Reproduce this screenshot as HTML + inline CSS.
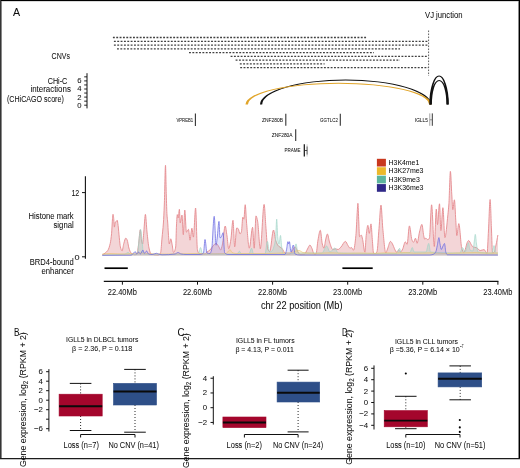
<!DOCTYPE html>
<html><head><meta charset="utf-8"><style>
html,body{margin:0;padding:0;background:#fff;}
svg{will-change:transform;display:block;font-family:"Liberation Sans",sans-serif;}
text{fill:#0d0d0d;stroke:#0d0d0d;stroke-width:0.04px;}
</style></head><body>
<svg width="520" height="468" viewBox="0 0 520 468">
<rect x="0" y="0" width="520" height="468" fill="#fff"/>
<!-- border -->
<g shape-rendering="crispEdges">
<rect x="0" y="1" width="520" height="1" fill="#dadada"/>
<rect x="0" y="459" width="520" height="1" fill="#c4c4c4"/>
<rect x="1" y="0" width="1" height="459" fill="#888"/>
<rect x="518" y="0" width="1" height="459" fill="#8c8c8c"/>
<rect x="0" y="0" width="520" height="1" fill="#000"/>
<rect x="0" y="0" width="1" height="459" fill="#353535"/>
<rect x="519" y="0" width="1" height="459" fill="#000"/>
<rect x="0" y="458" width="520" height="1" fill="#1c1c1c"/>
</g>
<line x1="112.9" y1="37.5" x2="367.5" y2="37.5" stroke="#404040" stroke-width="1.3" stroke-dasharray="1.9 1.45"/>
<line x1="113.9" y1="41.4" x2="428.3" y2="41.4" stroke="#404040" stroke-width="1.3" stroke-dasharray="1.9 1.45"/>
<line x1="113.9" y1="45.2" x2="428.3" y2="45.2" stroke="#404040" stroke-width="1.3" stroke-dasharray="1.9 1.45"/>
<line x1="117.0" y1="48.9" x2="400.0" y2="48.9" stroke="#404040" stroke-width="1.3" stroke-dasharray="1.9 1.45"/>
<line x1="189.0" y1="52.7" x2="374.0" y2="52.7" stroke="#404040" stroke-width="1.3" stroke-dasharray="1.9 1.45"/>
<line x1="230.6" y1="56.4" x2="428.3" y2="56.4" stroke="#404040" stroke-width="1.3" stroke-dasharray="1.9 1.45"/>
<line x1="235.6" y1="60.1" x2="400.0" y2="60.1" stroke="#404040" stroke-width="1.3" stroke-dasharray="1.9 1.45"/>
<line x1="239.8" y1="63.8" x2="324.6" y2="63.8" stroke="#404040" stroke-width="1.3" stroke-dasharray="1.9 1.45"/>
<line x1="240.2" y1="67.7" x2="428.3" y2="67.7" stroke="#404040" stroke-width="1.3" stroke-dasharray="1.9 1.45"/>

<line x1="428.6" y1="30.5" x2="428.6" y2="76" stroke="#333" stroke-width="0.8" stroke-dasharray="1.6 1.4"/>
<path d="M260.00,104.60 A85.70,25.05 0 0 1 431.40,104.60 L429.20,104.60 A83.50,24.15 0 0 0 262.20,104.60 Z" fill="#111"/>
<path d="M245.45,104.60 A93.05,21.85 0 0 1 431.55,104.60 L429.05,104.60 A90.55,20.95 0 0 0 247.95,104.60 Z" fill="#e1a52a"/>
<path d="M429.30,104.40 A9.75,29.00 0 0 1 448.80,104.40 L446.70,104.40 A7.65,28.00 0 0 0 431.40,104.40 Z" fill="#111"/>
<path d="M429.80,104.40 A9.35,24.30 0 0 1 448.50,104.40 L446.40,104.40 A7.25,23.30 0 0 0 431.90,104.40 Z" fill="#111"/>
<line x1="87" y1="73.2" x2="87" y2="108.4" stroke="#111" stroke-width="1"/>
<line x1="84.2" y1="105.20" x2="87" y2="105.20" stroke="#111" stroke-width="0.9"/>
<line x1="84.2" y1="101.15" x2="87" y2="101.15" stroke="#111" stroke-width="0.9"/>
<line x1="84.2" y1="97.10" x2="87" y2="97.10" stroke="#111" stroke-width="0.9"/>
<line x1="84.2" y1="93.05" x2="87" y2="93.05" stroke="#111" stroke-width="0.9"/>
<line x1="84.2" y1="89.00" x2="87" y2="89.00" stroke="#111" stroke-width="0.9"/>
<line x1="84.2" y1="84.95" x2="87" y2="84.95" stroke="#111" stroke-width="0.9"/>
<line x1="84.2" y1="80.90" x2="87" y2="80.90" stroke="#111" stroke-width="0.9"/>
<line x1="84.2" y1="76.85" x2="87" y2="76.85" stroke="#111" stroke-width="0.9"/>
<path d="M102.30,254.80 C103.23,254.23 104.17,253.81 105.10,253.10 C106.03,252.39 106.97,251.72 107.90,250.30 C108.67,249.14 109.43,246.84 110.20,243.50 C110.67,241.47 111.13,238.14 111.60,233.30 C111.90,230.19 112.20,221.88 112.50,218.60 C112.67,216.78 112.83,214.30 113.00,214.30 C113.20,214.30 113.40,216.05 113.60,217.50 C113.87,219.43 114.13,227.10 114.40,227.10 C114.70,227.10 115.00,222.31 115.30,222.00 C115.67,221.62 116.03,221.69 116.40,221.40 C116.67,221.19 116.93,220.30 117.20,220.30 C117.50,220.30 117.80,223.23 118.10,225.40 C118.50,228.29 118.90,234.13 119.30,237.80 C119.67,241.16 120.03,245.50 120.40,246.90 C120.97,249.06 121.53,250.90 122.10,250.90 C122.67,250.90 123.23,245.40 123.80,243.50 C124.47,241.26 125.13,238.10 125.80,238.10 C126.27,238.10 126.73,239.10 127.20,240.10 C127.77,241.32 128.33,246.22 128.90,248.00 C129.63,250.30 130.37,252.47 131.10,253.10 C131.87,253.76 132.63,254.00 133.40,254.30 C133.93,254.51 134.47,254.80 135.00,254.80 C135.67,254.80 136.33,254.31 137.00,253.50 C137.50,252.89 138.00,248.37 138.50,245.00 C139.10,240.95 139.70,229.80 140.30,229.80 C140.73,229.80 141.17,239.11 141.60,241.00 C141.93,242.45 142.27,244.00 142.60,244.00 C143.00,244.00 143.40,236.18 143.80,232.00 C144.33,226.43 144.87,214.40 145.40,214.40 C145.93,214.40 146.47,227.03 147.00,232.00 C147.67,238.21 148.33,245.09 149.00,248.00 C149.67,250.91 150.33,253.78 151.00,254.00 C153.33,254.77 155.67,255.00 158.00,255.00 C158.67,255.00 159.33,254.61 160.00,254.00 C160.23,253.79 160.47,253.23 160.70,252.40 C161.13,250.86 161.57,242.72 162.00,238.00 C162.47,232.92 162.93,229.66 163.40,223.00 C163.70,218.72 164.00,212.39 164.30,205.00 C164.70,195.14 165.10,165.30 165.50,165.30 C165.77,165.30 166.03,186.41 166.30,195.00 C166.53,202.51 166.77,211.59 167.00,215.00 C167.20,217.93 167.40,218.55 167.60,221.00 C167.87,224.26 168.13,230.47 168.40,234.00 C168.70,237.97 169.00,244.00 169.30,244.00 C169.80,244.00 170.30,238.80 170.80,238.80 C171.27,238.80 171.73,242.67 172.20,245.00 C172.63,247.16 173.07,252.40 173.50,252.40 C174.23,252.40 174.97,250.80 175.70,247.00 C175.97,245.62 176.23,229.71 176.50,225.00 C176.77,220.29 177.03,214.60 177.30,214.60 C177.60,214.60 177.90,218.00 178.20,218.00 C178.60,218.00 179.00,209.30 179.40,209.30 C179.67,209.30 179.93,222.90 180.20,222.90 C180.80,222.90 181.40,215.10 182.00,215.10 C182.43,215.10 182.87,234.70 183.30,234.70 C183.80,234.70 184.30,210.10 184.80,210.10 C185.33,210.10 185.87,232.20 186.40,232.20 C187.10,232.20 187.80,229.30 188.50,229.30 C189.00,229.30 189.50,240.20 190.00,240.20 C190.63,240.20 191.27,228.20 191.90,228.20 C192.40,228.20 192.90,237.10 193.40,237.10 C194.13,237.10 194.87,208.00 195.60,208.00 C196.20,208.00 196.80,246.84 197.40,249.50 C197.93,251.87 198.47,253.40 199.00,253.50 C201.00,253.89 203.00,254.00 205.00,254.00 C205.67,254.00 206.33,252.54 207.00,252.00 C208.00,251.19 209.00,250.89 210.00,250.00 C211.00,249.11 212.00,247.05 213.00,246.00 C214.03,244.91 215.07,243.30 216.10,243.30 C217.07,243.30 218.03,245.50 219.00,247.00 C219.53,247.82 220.07,250.00 220.60,250.00 C221.17,250.00 221.73,247.23 222.30,245.00 C223.27,241.20 224.23,226.00 225.20,226.00 C225.80,226.00 226.40,232.16 227.00,236.00 C227.57,239.63 228.13,248.80 228.70,248.80 C229.40,248.80 230.10,243.99 230.80,240.00 C231.53,235.82 232.27,220.30 233.00,220.30 C233.57,220.30 234.13,246.80 234.70,246.80 C235.37,246.80 236.03,228.00 236.70,228.00 C237.17,228.00 237.63,228.27 238.10,228.60 C238.77,229.07 239.43,234.00 240.10,234.00 C240.57,234.00 241.03,232.84 241.50,231.30 C241.93,229.87 242.37,217.20 242.80,217.20 C243.17,217.20 243.53,219.20 243.90,219.20 C244.33,219.20 244.77,204.70 245.20,204.70 C245.67,204.70 246.13,218.12 246.60,223.30 C247.50,233.29 248.40,248.20 249.30,248.20 C250.40,248.20 251.50,227.30 252.60,227.30 C253.13,227.30 253.67,248.20 254.20,248.20 C254.80,248.20 255.40,215.90 256.00,215.90 C256.53,215.90 257.07,218.64 257.60,221.20 C258.50,225.52 259.40,248.80 260.30,248.80 C261.57,248.80 262.83,204.40 264.10,204.40 C264.73,204.40 265.37,220.82 266.00,228.60 C266.57,235.56 267.13,247.40 267.70,248.80 C268.37,250.45 269.03,251.50 269.70,251.50 C270.97,251.50 272.23,230.00 273.50,230.00 C274.27,230.00 275.03,238.65 275.80,240.80 C276.70,243.32 277.60,245.22 278.50,246.10 C279.60,247.18 280.70,247.24 281.80,248.20 C283.17,249.40 284.53,254.20 285.90,254.20 C287.27,254.20 288.63,254.14 290.00,254.00 C290.83,253.92 291.67,251.68 292.50,250.50 C293.37,249.28 294.23,246.80 295.10,246.80 C295.90,246.80 296.70,249.79 297.50,251.00 C298.33,252.26 299.17,254.30 300.00,254.30 C301.50,254.30 303.00,254.20 304.50,254.00 C305.50,253.86 306.50,250.64 307.50,249.00 C308.30,247.68 309.10,245.10 309.90,245.10 C310.60,245.10 311.30,247.07 312.00,248.50 C312.67,249.86 313.33,254.00 314.00,254.00 C314.67,254.00 315.33,254.00 316.00,254.00 C316.67,254.00 317.33,243.53 318.00,240.00 C318.77,235.94 319.53,230.30 320.30,230.30 C320.97,230.30 321.63,241.61 322.30,244.00 C322.87,246.03 323.43,248.20 324.00,248.20 C324.53,248.20 325.07,242.16 325.60,240.00 C326.20,237.57 326.80,234.00 327.40,234.00 C328.10,234.00 328.80,239.97 329.50,242.00 C330.60,245.19 331.70,249.50 332.80,249.50 C333.70,249.50 334.60,248.80 335.50,248.80 C336.33,248.80 337.17,249.50 338.00,249.50 C339.00,249.50 340.00,247.99 341.00,247.00 C342.47,245.54 343.93,241.40 345.40,241.40 C346.27,241.40 347.13,244.28 348.00,245.50 C348.70,246.49 349.40,248.20 350.10,248.20 C350.53,248.20 350.97,247.50 351.40,247.50 C352.10,247.50 352.80,250.20 353.50,250.20 C354.30,250.20 355.10,243.07 355.90,235.40 C356.33,231.24 356.77,218.93 357.20,212.50 C357.43,209.04 357.67,203.30 357.90,203.30 C358.20,203.30 358.50,215.63 358.80,221.90 C359.03,226.78 359.27,236.70 359.50,236.70 C360.10,236.70 360.70,235.10 361.30,235.10 C361.73,235.10 362.17,237.64 362.60,239.40 C363.37,242.51 364.13,252.20 364.90,252.20 C365.33,252.20 365.77,238.99 366.20,235.40 C366.77,230.71 367.33,225.30 367.90,225.30 C368.37,225.30 368.83,233.40 369.30,233.40 C369.87,233.40 370.43,223.90 371.00,223.90 C371.43,223.90 371.87,234.48 372.30,239.40 C372.73,244.32 373.17,253.50 373.60,253.50 C374.23,253.50 374.87,253.50 375.50,253.50 C376.00,253.50 376.50,252.65 377.00,251.50 C377.67,249.97 378.33,236.33 379.00,228.60 C379.67,220.87 380.33,205.10 381.00,205.10 C381.60,205.10 382.20,222.48 382.80,228.60 C383.80,238.80 384.80,252.90 385.80,252.90 C386.37,252.90 386.93,250.36 387.50,249.00 C388.50,246.60 389.50,241.40 390.50,241.40 C391.17,241.40 391.83,242.88 392.50,244.00 C393.17,245.12 393.83,247.47 394.50,248.80 C395.17,250.13 395.83,252.20 396.50,252.20 C397.20,252.20 397.90,250.00 398.60,250.00 C399.27,250.00 399.93,252.00 400.60,252.00 C401.30,252.00 402.00,250.30 402.70,249.00 C403.57,247.38 404.43,241.80 405.30,241.80 C405.90,241.80 406.50,244.40 407.10,244.40 C407.87,244.40 408.63,225.90 409.40,225.90 C410.23,225.90 411.07,237.69 411.90,239.70 C412.43,240.99 412.97,242.30 413.50,242.30 C414.17,242.30 414.83,238.20 415.50,238.20 C416.03,238.20 416.57,243.30 417.10,243.30 C417.90,243.30 418.70,235.03 419.50,232.00 C420.30,228.97 421.10,224.40 421.90,224.40 C422.50,224.40 423.10,232.93 423.70,235.60 C424.03,237.08 424.37,239.20 424.70,239.20 C425.07,239.20 425.43,238.20 425.80,238.20 C426.47,238.20 427.13,239.70 427.80,239.70 C428.33,239.70 428.87,239.10 429.40,238.20 C430.13,236.96 430.87,204.80 431.60,204.80 C432.50,204.80 433.40,246.50 434.30,246.50 C434.97,246.50 435.63,209.10 436.30,209.10 C436.70,209.10 437.10,224.60 437.50,224.60 C438.17,224.60 438.83,203.80 439.50,203.80 C439.97,203.80 440.43,230.60 440.90,230.60 C441.57,230.60 442.23,207.70 442.90,207.70 C443.57,207.70 444.23,237.60 444.90,237.60 C445.90,237.60 446.90,223.95 447.90,214.70 C448.23,211.62 448.57,208.53 448.90,203.80 C449.40,196.71 449.90,171.40 450.40,171.40 C450.87,171.40 451.33,187.47 451.80,194.80 C452.13,200.04 452.47,209.70 452.80,209.70 C453.33,209.70 453.87,199.80 454.40,199.80 C454.87,199.80 455.33,213.74 455.80,220.70 C456.13,225.67 456.47,235.60 456.80,235.60 C457.47,235.60 458.13,223.60 458.80,223.60 C459.80,223.60 460.80,245.40 461.80,248.50 C462.47,250.56 463.13,252.50 463.80,252.50 C465.10,252.50 466.40,243.40 467.70,241.50 C468.00,241.06 468.30,240.50 468.60,240.50 C469.50,240.50 470.40,243.40 471.30,244.70 C471.87,245.52 472.43,246.80 473.00,247.00 C474.10,247.38 475.20,247.28 476.30,247.60 C477.60,247.97 478.90,250.50 480.20,250.50 C481.50,250.50 482.80,249.60 484.10,249.60 C485.07,249.60 486.03,253.50 487.00,253.50 C487.50,253.50 488.00,238.59 488.50,230.00 C489.03,220.84 489.57,199.50 490.10,199.50 C490.57,199.50 491.03,219.54 491.50,230.00 C491.83,237.47 492.17,253.00 492.50,253.00 C493.00,253.00 493.50,252.79 494.00,252.50 C494.67,252.11 495.33,247.92 496.00,245.00 C496.63,242.22 497.27,238.33 497.90,235.00 L497.90,255.40 L102.30,255.40 Z" fill="#f3d5d7" fill-opacity="1.0" stroke="none"/>
<path d="M102.30,254.80 C103.23,254.23 104.17,253.81 105.10,253.10 C106.03,252.39 106.97,251.72 107.90,250.30 C108.67,249.14 109.43,246.84 110.20,243.50 C110.67,241.47 111.13,238.14 111.60,233.30 C111.90,230.19 112.20,221.88 112.50,218.60 C112.67,216.78 112.83,214.30 113.00,214.30 C113.20,214.30 113.40,216.05 113.60,217.50 C113.87,219.43 114.13,227.10 114.40,227.10 C114.70,227.10 115.00,222.31 115.30,222.00 C115.67,221.62 116.03,221.69 116.40,221.40 C116.67,221.19 116.93,220.30 117.20,220.30 C117.50,220.30 117.80,223.23 118.10,225.40 C118.50,228.29 118.90,234.13 119.30,237.80 C119.67,241.16 120.03,245.50 120.40,246.90 C120.97,249.06 121.53,250.90 122.10,250.90 C122.67,250.90 123.23,245.40 123.80,243.50 C124.47,241.26 125.13,238.10 125.80,238.10 C126.27,238.10 126.73,239.10 127.20,240.10 C127.77,241.32 128.33,246.22 128.90,248.00 C129.63,250.30 130.37,252.47 131.10,253.10 C131.87,253.76 132.63,254.00 133.40,254.30 C133.93,254.51 134.47,254.80 135.00,254.80 C135.67,254.80 136.33,254.31 137.00,253.50 C137.50,252.89 138.00,248.37 138.50,245.00 C139.10,240.95 139.70,229.80 140.30,229.80 C140.73,229.80 141.17,239.11 141.60,241.00 C141.93,242.45 142.27,244.00 142.60,244.00 C143.00,244.00 143.40,236.18 143.80,232.00 C144.33,226.43 144.87,214.40 145.40,214.40 C145.93,214.40 146.47,227.03 147.00,232.00 C147.67,238.21 148.33,245.09 149.00,248.00 C149.67,250.91 150.33,253.78 151.00,254.00 C153.33,254.77 155.67,255.00 158.00,255.00 C158.67,255.00 159.33,254.61 160.00,254.00 C160.23,253.79 160.47,253.23 160.70,252.40 C161.13,250.86 161.57,242.72 162.00,238.00 C162.47,232.92 162.93,229.66 163.40,223.00 C163.70,218.72 164.00,212.39 164.30,205.00 C164.70,195.14 165.10,165.30 165.50,165.30 C165.77,165.30 166.03,186.41 166.30,195.00 C166.53,202.51 166.77,211.59 167.00,215.00 C167.20,217.93 167.40,218.55 167.60,221.00 C167.87,224.26 168.13,230.47 168.40,234.00 C168.70,237.97 169.00,244.00 169.30,244.00 C169.80,244.00 170.30,238.80 170.80,238.80 C171.27,238.80 171.73,242.67 172.20,245.00 C172.63,247.16 173.07,252.40 173.50,252.40 C174.23,252.40 174.97,250.80 175.70,247.00 C175.97,245.62 176.23,229.71 176.50,225.00 C176.77,220.29 177.03,214.60 177.30,214.60 C177.60,214.60 177.90,218.00 178.20,218.00 C178.60,218.00 179.00,209.30 179.40,209.30 C179.67,209.30 179.93,222.90 180.20,222.90 C180.80,222.90 181.40,215.10 182.00,215.10 C182.43,215.10 182.87,234.70 183.30,234.70 C183.80,234.70 184.30,210.10 184.80,210.10 C185.33,210.10 185.87,232.20 186.40,232.20 C187.10,232.20 187.80,229.30 188.50,229.30 C189.00,229.30 189.50,240.20 190.00,240.20 C190.63,240.20 191.27,228.20 191.90,228.20 C192.40,228.20 192.90,237.10 193.40,237.10 C194.13,237.10 194.87,208.00 195.60,208.00 C196.20,208.00 196.80,246.84 197.40,249.50 C197.93,251.87 198.47,253.40 199.00,253.50 C201.00,253.89 203.00,254.00 205.00,254.00 C205.67,254.00 206.33,252.54 207.00,252.00 C208.00,251.19 209.00,250.89 210.00,250.00 C211.00,249.11 212.00,247.05 213.00,246.00 C214.03,244.91 215.07,243.30 216.10,243.30 C217.07,243.30 218.03,245.50 219.00,247.00 C219.53,247.82 220.07,250.00 220.60,250.00 C221.17,250.00 221.73,247.23 222.30,245.00 C223.27,241.20 224.23,226.00 225.20,226.00 C225.80,226.00 226.40,232.16 227.00,236.00 C227.57,239.63 228.13,248.80 228.70,248.80 C229.40,248.80 230.10,243.99 230.80,240.00 C231.53,235.82 232.27,220.30 233.00,220.30 C233.57,220.30 234.13,246.80 234.70,246.80 C235.37,246.80 236.03,228.00 236.70,228.00 C237.17,228.00 237.63,228.27 238.10,228.60 C238.77,229.07 239.43,234.00 240.10,234.00 C240.57,234.00 241.03,232.84 241.50,231.30 C241.93,229.87 242.37,217.20 242.80,217.20 C243.17,217.20 243.53,219.20 243.90,219.20 C244.33,219.20 244.77,204.70 245.20,204.70 C245.67,204.70 246.13,218.12 246.60,223.30 C247.50,233.29 248.40,248.20 249.30,248.20 C250.40,248.20 251.50,227.30 252.60,227.30 C253.13,227.30 253.67,248.20 254.20,248.20 C254.80,248.20 255.40,215.90 256.00,215.90 C256.53,215.90 257.07,218.64 257.60,221.20 C258.50,225.52 259.40,248.80 260.30,248.80 C261.57,248.80 262.83,204.40 264.10,204.40 C264.73,204.40 265.37,220.82 266.00,228.60 C266.57,235.56 267.13,247.40 267.70,248.80 C268.37,250.45 269.03,251.50 269.70,251.50 C270.97,251.50 272.23,230.00 273.50,230.00 C274.27,230.00 275.03,238.65 275.80,240.80 C276.70,243.32 277.60,245.22 278.50,246.10 C279.60,247.18 280.70,247.24 281.80,248.20 C283.17,249.40 284.53,254.20 285.90,254.20 C287.27,254.20 288.63,254.14 290.00,254.00 C290.83,253.92 291.67,251.68 292.50,250.50 C293.37,249.28 294.23,246.80 295.10,246.80 C295.90,246.80 296.70,249.79 297.50,251.00 C298.33,252.26 299.17,254.30 300.00,254.30 C301.50,254.30 303.00,254.20 304.50,254.00 C305.50,253.86 306.50,250.64 307.50,249.00 C308.30,247.68 309.10,245.10 309.90,245.10 C310.60,245.10 311.30,247.07 312.00,248.50 C312.67,249.86 313.33,254.00 314.00,254.00 C314.67,254.00 315.33,254.00 316.00,254.00 C316.67,254.00 317.33,243.53 318.00,240.00 C318.77,235.94 319.53,230.30 320.30,230.30 C320.97,230.30 321.63,241.61 322.30,244.00 C322.87,246.03 323.43,248.20 324.00,248.20 C324.53,248.20 325.07,242.16 325.60,240.00 C326.20,237.57 326.80,234.00 327.40,234.00 C328.10,234.00 328.80,239.97 329.50,242.00 C330.60,245.19 331.70,249.50 332.80,249.50 C333.70,249.50 334.60,248.80 335.50,248.80 C336.33,248.80 337.17,249.50 338.00,249.50 C339.00,249.50 340.00,247.99 341.00,247.00 C342.47,245.54 343.93,241.40 345.40,241.40 C346.27,241.40 347.13,244.28 348.00,245.50 C348.70,246.49 349.40,248.20 350.10,248.20 C350.53,248.20 350.97,247.50 351.40,247.50 C352.10,247.50 352.80,250.20 353.50,250.20 C354.30,250.20 355.10,243.07 355.90,235.40 C356.33,231.24 356.77,218.93 357.20,212.50 C357.43,209.04 357.67,203.30 357.90,203.30 C358.20,203.30 358.50,215.63 358.80,221.90 C359.03,226.78 359.27,236.70 359.50,236.70 C360.10,236.70 360.70,235.10 361.30,235.10 C361.73,235.10 362.17,237.64 362.60,239.40 C363.37,242.51 364.13,252.20 364.90,252.20 C365.33,252.20 365.77,238.99 366.20,235.40 C366.77,230.71 367.33,225.30 367.90,225.30 C368.37,225.30 368.83,233.40 369.30,233.40 C369.87,233.40 370.43,223.90 371.00,223.90 C371.43,223.90 371.87,234.48 372.30,239.40 C372.73,244.32 373.17,253.50 373.60,253.50 C374.23,253.50 374.87,253.50 375.50,253.50 C376.00,253.50 376.50,252.65 377.00,251.50 C377.67,249.97 378.33,236.33 379.00,228.60 C379.67,220.87 380.33,205.10 381.00,205.10 C381.60,205.10 382.20,222.48 382.80,228.60 C383.80,238.80 384.80,252.90 385.80,252.90 C386.37,252.90 386.93,250.36 387.50,249.00 C388.50,246.60 389.50,241.40 390.50,241.40 C391.17,241.40 391.83,242.88 392.50,244.00 C393.17,245.12 393.83,247.47 394.50,248.80 C395.17,250.13 395.83,252.20 396.50,252.20 C397.20,252.20 397.90,250.00 398.60,250.00 C399.27,250.00 399.93,252.00 400.60,252.00 C401.30,252.00 402.00,250.30 402.70,249.00 C403.57,247.38 404.43,241.80 405.30,241.80 C405.90,241.80 406.50,244.40 407.10,244.40 C407.87,244.40 408.63,225.90 409.40,225.90 C410.23,225.90 411.07,237.69 411.90,239.70 C412.43,240.99 412.97,242.30 413.50,242.30 C414.17,242.30 414.83,238.20 415.50,238.20 C416.03,238.20 416.57,243.30 417.10,243.30 C417.90,243.30 418.70,235.03 419.50,232.00 C420.30,228.97 421.10,224.40 421.90,224.40 C422.50,224.40 423.10,232.93 423.70,235.60 C424.03,237.08 424.37,239.20 424.70,239.20 C425.07,239.20 425.43,238.20 425.80,238.20 C426.47,238.20 427.13,239.70 427.80,239.70 C428.33,239.70 428.87,239.10 429.40,238.20 C430.13,236.96 430.87,204.80 431.60,204.80 C432.50,204.80 433.40,246.50 434.30,246.50 C434.97,246.50 435.63,209.10 436.30,209.10 C436.70,209.10 437.10,224.60 437.50,224.60 C438.17,224.60 438.83,203.80 439.50,203.80 C439.97,203.80 440.43,230.60 440.90,230.60 C441.57,230.60 442.23,207.70 442.90,207.70 C443.57,207.70 444.23,237.60 444.90,237.60 C445.90,237.60 446.90,223.95 447.90,214.70 C448.23,211.62 448.57,208.53 448.90,203.80 C449.40,196.71 449.90,171.40 450.40,171.40 C450.87,171.40 451.33,187.47 451.80,194.80 C452.13,200.04 452.47,209.70 452.80,209.70 C453.33,209.70 453.87,199.80 454.40,199.80 C454.87,199.80 455.33,213.74 455.80,220.70 C456.13,225.67 456.47,235.60 456.80,235.60 C457.47,235.60 458.13,223.60 458.80,223.60 C459.80,223.60 460.80,245.40 461.80,248.50 C462.47,250.56 463.13,252.50 463.80,252.50 C465.10,252.50 466.40,243.40 467.70,241.50 C468.00,241.06 468.30,240.50 468.60,240.50 C469.50,240.50 470.40,243.40 471.30,244.70 C471.87,245.52 472.43,246.80 473.00,247.00 C474.10,247.38 475.20,247.28 476.30,247.60 C477.60,247.97 478.90,250.50 480.20,250.50 C481.50,250.50 482.80,249.60 484.10,249.60 C485.07,249.60 486.03,253.50 487.00,253.50 C487.50,253.50 488.00,238.59 488.50,230.00 C489.03,220.84 489.57,199.50 490.10,199.50 C490.57,199.50 491.03,219.54 491.50,230.00 C491.83,237.47 492.17,253.00 492.50,253.00 C493.00,253.00 493.50,252.79 494.00,252.50 C494.67,252.11 495.33,247.92 496.00,245.00 C496.63,242.22 497.27,238.33 497.90,235.00" fill="none" stroke="#e58a8e" stroke-width="0.9" stroke-opacity="1.0" stroke-linejoin="round"/>
<path d="M102.30,255.00 C108.20,254.83 114.10,254.79 120.00,254.50 C121.67,254.42 123.33,254.29 125.00,254.00 C126.00,253.82 127.00,252.50 128.00,252.50 C129.00,252.50 130.00,254.50 131.00,254.50 C133.17,254.50 135.33,254.42 137.50,254.00 C138.00,253.90 138.50,243.88 139.00,240.00 C139.53,235.86 140.07,229.40 140.60,229.40 C141.07,229.40 141.53,236.10 142.00,240.00 C142.50,244.18 143.00,253.96 143.50,254.00 C149.00,254.46 154.50,254.50 160.00,254.50 C172.83,254.50 185.67,254.47 198.50,254.00 C199.17,253.98 199.83,247.50 200.50,247.50 C201.17,247.50 201.83,254.00 202.50,254.00 C214.00,254.00 225.50,254.00 237.00,254.00 C237.80,254.00 238.60,251.30 239.40,251.30 C240.10,251.30 240.80,254.00 241.50,254.00 C244.00,254.00 246.50,254.00 249.00,254.00 C249.87,254.00 250.73,248.20 251.60,248.20 C252.23,248.20 252.87,254.00 253.50,254.00 C257.33,254.00 261.17,254.00 265.00,254.00 C265.80,254.00 266.60,241.40 267.40,241.40 C268.10,241.40 268.80,252.00 269.50,252.00 C270.33,252.00 271.17,251.58 272.00,251.00 C272.80,250.44 273.60,247.76 274.40,244.80 C274.80,243.32 275.20,241.43 275.60,238.00 C275.97,234.86 276.33,219.20 276.70,219.20 C277.07,219.20 277.43,235.14 277.80,238.00 C278.20,241.12 278.60,244.00 279.00,244.00 C279.50,244.00 280.00,235.40 280.50,235.40 C280.90,235.40 281.30,244.72 281.70,247.00 C282.30,250.43 282.90,254.00 283.50,254.00 C287.00,254.00 290.50,253.83 294.00,253.00 C294.67,252.84 295.33,243.90 296.00,243.90 C296.67,243.90 297.33,253.00 298.00,253.00 C306.00,253.00 314.00,253.00 322.00,253.00 C323.53,253.00 325.07,246.00 326.60,246.00 C327.73,246.00 328.87,252.00 330.00,252.00 C331.63,252.00 333.27,248.00 334.90,248.00 C335.93,248.00 336.97,252.98 338.00,253.00 C357.67,253.47 377.33,253.50 397.00,253.50 C397.87,253.50 398.73,248.30 399.60,248.30 C400.07,248.30 400.53,253.00 401.00,253.00 C404.00,253.00 407.00,252.90 410.00,252.50 C410.77,252.40 411.53,247.50 412.30,247.50 C412.87,247.50 413.43,252.00 414.00,252.00 C418.00,252.00 422.00,252.00 426.00,252.00 C426.90,252.00 427.80,243.40 428.70,243.40 C429.30,243.40 429.90,251.94 430.50,252.00 C440.33,252.93 450.17,253.00 460.00,253.00 C460.83,253.00 461.67,247.60 462.50,247.60 C463.33,247.60 464.17,252.00 465.00,252.00 C465.67,252.00 466.33,248.85 467.00,247.00 C467.47,245.71 467.93,242.70 468.40,242.70 C468.93,242.70 469.47,249.64 470.00,250.00 C471.00,250.68 472.00,251.00 473.00,251.00 C473.40,251.00 473.80,244.88 474.20,242.00 C474.57,239.36 474.93,234.40 475.30,234.40 C475.70,234.40 476.10,241.42 476.50,244.00 C477.00,247.22 477.50,251.90 478.00,252.00 C482.67,252.89 487.33,253.00 492.00,253.00 C492.67,253.00 493.33,245.60 494.00,245.60 C494.67,245.60 495.33,253.00 496.00,253.00 C496.63,253.00 497.27,253.00 497.90,253.00 L497.90,255.40 L102.30,255.40 Z" fill="#94d2c0" fill-opacity="0.3" stroke="none"/>
<path d="M102.30,255.00 C108.20,254.83 114.10,254.79 120.00,254.50 C121.67,254.42 123.33,254.29 125.00,254.00 C126.00,253.82 127.00,252.50 128.00,252.50 C129.00,252.50 130.00,254.50 131.00,254.50 C133.17,254.50 135.33,254.42 137.50,254.00 C138.00,253.90 138.50,243.88 139.00,240.00 C139.53,235.86 140.07,229.40 140.60,229.40 C141.07,229.40 141.53,236.10 142.00,240.00 C142.50,244.18 143.00,253.96 143.50,254.00 C149.00,254.46 154.50,254.50 160.00,254.50 C172.83,254.50 185.67,254.47 198.50,254.00 C199.17,253.98 199.83,247.50 200.50,247.50 C201.17,247.50 201.83,254.00 202.50,254.00 C214.00,254.00 225.50,254.00 237.00,254.00 C237.80,254.00 238.60,251.30 239.40,251.30 C240.10,251.30 240.80,254.00 241.50,254.00 C244.00,254.00 246.50,254.00 249.00,254.00 C249.87,254.00 250.73,248.20 251.60,248.20 C252.23,248.20 252.87,254.00 253.50,254.00 C257.33,254.00 261.17,254.00 265.00,254.00 C265.80,254.00 266.60,241.40 267.40,241.40 C268.10,241.40 268.80,252.00 269.50,252.00 C270.33,252.00 271.17,251.58 272.00,251.00 C272.80,250.44 273.60,247.76 274.40,244.80 C274.80,243.32 275.20,241.43 275.60,238.00 C275.97,234.86 276.33,219.20 276.70,219.20 C277.07,219.20 277.43,235.14 277.80,238.00 C278.20,241.12 278.60,244.00 279.00,244.00 C279.50,244.00 280.00,235.40 280.50,235.40 C280.90,235.40 281.30,244.72 281.70,247.00 C282.30,250.43 282.90,254.00 283.50,254.00 C287.00,254.00 290.50,253.83 294.00,253.00 C294.67,252.84 295.33,243.90 296.00,243.90 C296.67,243.90 297.33,253.00 298.00,253.00 C306.00,253.00 314.00,253.00 322.00,253.00 C323.53,253.00 325.07,246.00 326.60,246.00 C327.73,246.00 328.87,252.00 330.00,252.00 C331.63,252.00 333.27,248.00 334.90,248.00 C335.93,248.00 336.97,252.98 338.00,253.00 C357.67,253.47 377.33,253.50 397.00,253.50 C397.87,253.50 398.73,248.30 399.60,248.30 C400.07,248.30 400.53,253.00 401.00,253.00 C404.00,253.00 407.00,252.90 410.00,252.50 C410.77,252.40 411.53,247.50 412.30,247.50 C412.87,247.50 413.43,252.00 414.00,252.00 C418.00,252.00 422.00,252.00 426.00,252.00 C426.90,252.00 427.80,243.40 428.70,243.40 C429.30,243.40 429.90,251.94 430.50,252.00 C440.33,252.93 450.17,253.00 460.00,253.00 C460.83,253.00 461.67,247.60 462.50,247.60 C463.33,247.60 464.17,252.00 465.00,252.00 C465.67,252.00 466.33,248.85 467.00,247.00 C467.47,245.71 467.93,242.70 468.40,242.70 C468.93,242.70 469.47,249.64 470.00,250.00 C471.00,250.68 472.00,251.00 473.00,251.00 C473.40,251.00 473.80,244.88 474.20,242.00 C474.57,239.36 474.93,234.40 475.30,234.40 C475.70,234.40 476.10,241.42 476.50,244.00 C477.00,247.22 477.50,251.90 478.00,252.00 C482.67,252.89 487.33,253.00 492.00,253.00 C492.67,253.00 493.33,245.60 494.00,245.60 C494.67,245.60 495.33,253.00 496.00,253.00 C496.63,253.00 497.27,253.00 497.90,253.00" fill="none" stroke="#a2d6c8" stroke-width="0.7" stroke-opacity="1.0" stroke-linejoin="round"/>
<path d="M102.30,254.00 C104.87,253.83 107.43,253.50 110.00,253.50 C115.00,253.50 120.00,254.00 125.00,254.00 C130.00,254.00 135.00,253.00 140.00,253.00 C143.33,253.00 146.67,253.72 150.00,253.80 C155.00,253.92 160.00,254.00 165.00,254.00 C175.00,254.00 185.00,253.50 195.00,253.50 C198.33,253.50 201.67,253.80 205.00,253.80 C212.00,253.80 219.00,253.76 226.00,253.50 C226.83,253.47 227.67,251.68 228.50,251.00 C229.07,250.54 229.63,249.80 230.20,249.80 C230.80,249.80 231.40,252.22 232.00,252.50 C233.33,253.13 234.67,253.50 236.00,253.50 C247.33,253.50 258.67,253.50 270.00,253.50 C275.00,253.50 280.00,253.02 285.00,252.80 C287.33,252.70 289.67,252.69 292.00,252.50 C293.33,252.39 294.67,251.30 296.00,251.00 C297.00,250.77 298.00,250.50 299.00,250.50 C300.33,250.50 301.67,252.27 303.00,252.50 C304.67,252.78 306.33,252.90 308.00,253.00 C310.33,253.14 312.67,253.30 315.00,253.30 C320.00,253.30 325.00,252.80 330.00,252.80 C335.00,252.80 340.00,253.30 345.00,253.30 C350.00,253.30 355.00,253.00 360.00,253.00 C365.00,253.00 370.00,253.30 375.00,253.30 C378.33,253.30 381.67,252.80 385.00,252.80 C388.33,252.80 391.67,253.00 395.00,253.00 C398.33,253.00 401.67,252.50 405.00,252.50 C408.33,252.50 411.67,253.20 415.00,253.20 C420.00,253.20 425.00,252.80 430.00,252.80 C435.00,252.80 440.00,253.50 445.00,253.50 C448.33,253.50 451.67,253.10 455.00,253.00 C458.33,252.90 461.67,252.88 465.00,252.80 C468.33,252.72 471.67,252.50 475.00,252.50 C478.33,252.50 481.67,253.00 485.00,253.00 C489.30,253.00 493.60,253.00 497.90,253.00 L497.90,255.40 L102.30,255.40 Z" fill="#f0cc70" fill-opacity="0.25" stroke="none"/>
<path d="M102.30,254.00 C104.87,253.83 107.43,253.50 110.00,253.50 C115.00,253.50 120.00,254.00 125.00,254.00 C130.00,254.00 135.00,253.00 140.00,253.00 C143.33,253.00 146.67,253.72 150.00,253.80 C155.00,253.92 160.00,254.00 165.00,254.00 C175.00,254.00 185.00,253.50 195.00,253.50 C198.33,253.50 201.67,253.80 205.00,253.80 C212.00,253.80 219.00,253.76 226.00,253.50 C226.83,253.47 227.67,251.68 228.50,251.00 C229.07,250.54 229.63,249.80 230.20,249.80 C230.80,249.80 231.40,252.22 232.00,252.50 C233.33,253.13 234.67,253.50 236.00,253.50 C247.33,253.50 258.67,253.50 270.00,253.50 C275.00,253.50 280.00,253.02 285.00,252.80 C287.33,252.70 289.67,252.69 292.00,252.50 C293.33,252.39 294.67,251.30 296.00,251.00 C297.00,250.77 298.00,250.50 299.00,250.50 C300.33,250.50 301.67,252.27 303.00,252.50 C304.67,252.78 306.33,252.90 308.00,253.00 C310.33,253.14 312.67,253.30 315.00,253.30 C320.00,253.30 325.00,252.80 330.00,252.80 C335.00,252.80 340.00,253.30 345.00,253.30 C350.00,253.30 355.00,253.00 360.00,253.00 C365.00,253.00 370.00,253.30 375.00,253.30 C378.33,253.30 381.67,252.80 385.00,252.80 C388.33,252.80 391.67,253.00 395.00,253.00 C398.33,253.00 401.67,252.50 405.00,252.50 C408.33,252.50 411.67,253.20 415.00,253.20 C420.00,253.20 425.00,252.80 430.00,252.80 C435.00,252.80 440.00,253.50 445.00,253.50 C448.33,253.50 451.67,253.10 455.00,253.00 C458.33,252.90 461.67,252.88 465.00,252.80 C468.33,252.72 471.67,252.50 475.00,252.50 C478.33,252.50 481.67,253.00 485.00,253.00 C489.30,253.00 493.60,253.00 497.90,253.00" fill="none" stroke="#eac36a" stroke-width="0.65" stroke-opacity="0.9" stroke-linejoin="round"/>
<path d="M102.30,255.30 C111.87,255.27 121.43,255.29 131.00,255.20 C131.80,255.19 132.60,253.99 133.40,253.30 C134.00,252.78 134.60,251.60 135.20,251.60 C135.70,251.60 136.20,253.90 136.70,253.90 C137.33,253.90 137.97,252.10 138.60,252.10 C139.20,252.10 139.80,253.90 140.40,253.90 C141.23,253.90 142.07,250.10 142.90,250.10 C143.40,250.10 143.90,253.30 144.40,253.30 C145.17,253.30 145.93,251.00 146.70,251.00 C147.27,251.00 147.83,253.71 148.40,253.90 C149.60,254.30 150.80,254.50 152.00,254.50 C153.50,254.50 155.00,253.30 156.50,253.30 C157.07,253.30 157.63,253.74 158.20,253.90 C159.47,254.27 160.73,254.80 162.00,254.80 C166.33,254.80 170.67,254.57 175.00,254.00 C176.00,253.87 177.00,252.50 178.00,252.50 C179.00,252.50 180.00,253.82 181.00,254.00 C182.67,254.29 184.33,254.50 186.00,254.50 C190.67,254.50 195.33,254.50 200.00,254.50 C201.17,254.50 202.33,254.09 203.50,253.00 C204.00,252.53 204.50,239.50 205.00,239.50 C205.67,239.50 206.33,252.77 207.00,253.00 C208.00,253.35 209.00,253.50 210.00,253.50 C210.53,253.50 211.07,251.89 211.60,250.00 C212.47,246.93 213.33,216.30 214.20,216.30 C214.83,216.30 215.47,245.20 216.10,245.20 C216.47,245.20 216.83,240.77 217.20,238.00 C217.80,233.47 218.40,221.40 219.00,221.40 C219.33,221.40 219.67,237.80 220.00,237.80 C220.40,237.80 220.80,237.57 221.20,237.30 C221.83,236.87 222.47,232.70 223.10,232.70 C223.60,232.70 224.10,251.99 224.60,252.60 C225.73,253.98 226.87,254.50 228.00,254.50 C247.00,254.50 266.00,254.50 285.00,254.50 C285.50,254.50 286.00,252.00 286.50,250.00 C286.97,248.13 287.43,241.70 287.90,241.70 C288.17,241.70 288.43,244.00 288.70,244.00 C288.93,244.00 289.17,241.70 289.40,241.70 C289.93,241.70 290.47,252.00 291.00,252.00 C291.80,252.00 292.60,245.00 293.40,245.00 C293.93,245.00 294.47,253.75 295.00,254.00 C296.67,254.77 298.33,255.00 300.00,255.00 C343.33,255.00 386.67,255.00 430.00,255.00 C431.33,255.00 432.67,254.61 434.00,254.00 C434.63,253.71 435.27,252.81 435.90,251.50 C436.37,250.53 436.83,247.64 437.30,245.50 C437.83,243.06 438.37,237.60 438.90,237.60 C439.27,237.60 439.63,242.20 440.00,244.00 C440.43,246.13 440.87,249.50 441.30,249.50 C441.87,249.50 442.43,247.04 443.00,246.00 C443.50,245.08 444.00,243.50 444.50,243.50 C444.97,243.50 445.43,251.39 445.90,252.50 C446.43,253.77 446.97,254.79 447.50,254.80 C464.30,254.99 481.10,254.93 497.90,255.00 L497.90,255.40 L102.30,255.40 Z" fill="#8f8ff0" fill-opacity="0.24" stroke="none"/>
<path d="M102.30,255.30 C111.87,255.27 121.43,255.29 131.00,255.20 C131.80,255.19 132.60,253.99 133.40,253.30 C134.00,252.78 134.60,251.60 135.20,251.60 C135.70,251.60 136.20,253.90 136.70,253.90 C137.33,253.90 137.97,252.10 138.60,252.10 C139.20,252.10 139.80,253.90 140.40,253.90 C141.23,253.90 142.07,250.10 142.90,250.10 C143.40,250.10 143.90,253.30 144.40,253.30 C145.17,253.30 145.93,251.00 146.70,251.00 C147.27,251.00 147.83,253.71 148.40,253.90 C149.60,254.30 150.80,254.50 152.00,254.50 C153.50,254.50 155.00,253.30 156.50,253.30 C157.07,253.30 157.63,253.74 158.20,253.90 C159.47,254.27 160.73,254.80 162.00,254.80 C166.33,254.80 170.67,254.57 175.00,254.00 C176.00,253.87 177.00,252.50 178.00,252.50 C179.00,252.50 180.00,253.82 181.00,254.00 C182.67,254.29 184.33,254.50 186.00,254.50 C190.67,254.50 195.33,254.50 200.00,254.50 C201.17,254.50 202.33,254.09 203.50,253.00 C204.00,252.53 204.50,239.50 205.00,239.50 C205.67,239.50 206.33,252.77 207.00,253.00 C208.00,253.35 209.00,253.50 210.00,253.50 C210.53,253.50 211.07,251.89 211.60,250.00 C212.47,246.93 213.33,216.30 214.20,216.30 C214.83,216.30 215.47,245.20 216.10,245.20 C216.47,245.20 216.83,240.77 217.20,238.00 C217.80,233.47 218.40,221.40 219.00,221.40 C219.33,221.40 219.67,237.80 220.00,237.80 C220.40,237.80 220.80,237.57 221.20,237.30 C221.83,236.87 222.47,232.70 223.10,232.70 C223.60,232.70 224.10,251.99 224.60,252.60 C225.73,253.98 226.87,254.50 228.00,254.50 C247.00,254.50 266.00,254.50 285.00,254.50 C285.50,254.50 286.00,252.00 286.50,250.00 C286.97,248.13 287.43,241.70 287.90,241.70 C288.17,241.70 288.43,244.00 288.70,244.00 C288.93,244.00 289.17,241.70 289.40,241.70 C289.93,241.70 290.47,252.00 291.00,252.00 C291.80,252.00 292.60,245.00 293.40,245.00 C293.93,245.00 294.47,253.75 295.00,254.00 C296.67,254.77 298.33,255.00 300.00,255.00 C343.33,255.00 386.67,255.00 430.00,255.00 C431.33,255.00 432.67,254.61 434.00,254.00 C434.63,253.71 435.27,252.81 435.90,251.50 C436.37,250.53 436.83,247.64 437.30,245.50 C437.83,243.06 438.37,237.60 438.90,237.60 C439.27,237.60 439.63,242.20 440.00,244.00 C440.43,246.13 440.87,249.50 441.30,249.50 C441.87,249.50 442.43,247.04 443.00,246.00 C443.50,245.08 444.00,243.50 444.50,243.50 C444.97,243.50 445.43,251.39 445.90,252.50 C446.43,253.77 446.97,254.79 447.50,254.80 C464.30,254.99 481.10,254.93 497.90,255.00" fill="none" stroke="#6a6ae2" stroke-width="0.75" stroke-opacity="1.0" stroke-linejoin="round"/>

<text x="13.00" y="15.90" font-size="11.09" textLength="7.10" lengthAdjust="spacingAndGlyphs">A</text>
<text x="425.00" y="18.30" font-size="8.51" textLength="37.60" lengthAdjust="spacingAndGlyphs">VJ junction</text>
<text x="51.60" y="59.30" font-size="8.29" textLength="18.40" lengthAdjust="spacingAndGlyphs">CNVs</text>
<text x="47.70" y="83.90" font-size="8.18" textLength="19.60" lengthAdjust="spacingAndGlyphs">CHi-C</text>
<text x="30.40" y="92.00" font-size="8.18" textLength="40.50" lengthAdjust="spacingAndGlyphs">interactions</text>
<text x="7.00" y="101.70" font-size="8.18" textLength="56.80" lengthAdjust="spacingAndGlyphs">(CHiCAGO score)</text>
<text x="81.60" y="83.30" font-size="7.73" text-anchor="end">6</text>
<text x="81.60" y="91.40" font-size="7.73" text-anchor="end">4</text>
<text x="81.60" y="99.50" font-size="7.73" text-anchor="end">2</text>
<text x="81.60" y="107.70" font-size="7.73" text-anchor="end">0</text>
<text x="176.40" y="121.60" font-size="5.94" textLength="16.80" lengthAdjust="spacingAndGlyphs">VPREB1</text>
<text x="262.10" y="121.60" font-size="5.94" textLength="20.90" lengthAdjust="spacingAndGlyphs">ZNF280B</text>
<text x="320.10" y="121.60" font-size="5.94" textLength="17.80" lengthAdjust="spacingAndGlyphs">GGTLC2</text>
<text x="414.80" y="121.90" font-size="5.94" textLength="13.10" lengthAdjust="spacingAndGlyphs">IGLL5</text>
<text x="271.80" y="137.40" font-size="5.94" textLength="20.70" lengthAdjust="spacingAndGlyphs">ZNF280A</text>
<text x="284.40" y="151.80" font-size="5.94" textLength="16.10" lengthAdjust="spacingAndGlyphs">PRAME</text>
<text x="388.60" y="165.10" font-size="7.62" textLength="30.70" lengthAdjust="spacingAndGlyphs">H3K4me1</text>
<text x="388.60" y="173.40" font-size="7.62" textLength="34.90" lengthAdjust="spacingAndGlyphs">H3K27me3</text>
<text x="388.60" y="181.70" font-size="7.62" textLength="31.20" lengthAdjust="spacingAndGlyphs">H3K9me3</text>
<text x="388.60" y="190.00" font-size="7.62" textLength="34.90" lengthAdjust="spacingAndGlyphs">H3K36me3</text>
<text x="28.60" y="219.10" font-size="8.18" textLength="45.10" lengthAdjust="spacingAndGlyphs">Histone mark</text>
<text x="53.50" y="228.30" font-size="8.18" textLength="20.20" lengthAdjust="spacingAndGlyphs">signal</text>
<text x="29.80" y="265.20" font-size="8.18" textLength="43.90" lengthAdjust="spacingAndGlyphs">BRD4-bound</text>
<text x="41.50" y="274.00" font-size="8.18" textLength="32.20" lengthAdjust="spacingAndGlyphs">enhancer</text>
<text x="71.40" y="195.50" font-size="8.74" textLength="7.90" lengthAdjust="spacingAndGlyphs">12</text>
<text x="74.40" y="259.60" font-size="7.62" textLength="5.10" lengthAdjust="spacingAndGlyphs">0</text>
<text x="107.80" y="294.50" font-size="8.85" textLength="29.00" lengthAdjust="spacingAndGlyphs">22.40Mb</text>
<text x="182.90" y="294.50" font-size="8.85" textLength="29.00" lengthAdjust="spacingAndGlyphs">22.60Mb</text>
<text x="258.00" y="294.50" font-size="8.85" textLength="29.00" lengthAdjust="spacingAndGlyphs">22.80Mb</text>
<text x="333.10" y="294.50" font-size="8.85" textLength="29.00" lengthAdjust="spacingAndGlyphs">23.00Mb</text>
<text x="408.20" y="294.50" font-size="8.85" textLength="29.00" lengthAdjust="spacingAndGlyphs">23.20Mb</text>
<text x="483.30" y="294.50" font-size="8.85" textLength="29.00" lengthAdjust="spacingAndGlyphs">23.40Mb</text>
<text x="261.00" y="308.50" font-size="10.98" textLength="81.50" lengthAdjust="spacingAndGlyphs">chr 22 position (Mb)</text>
<line x1="195.4" y1="113.5" x2="195.4" y2="125.9" stroke="#333" stroke-width="1.1"/>
<line x1="285.8" y1="113.8" x2="285.8" y2="125.7" stroke="#333" stroke-width="1.1"/>
<line x1="340.3" y1="113.8" x2="340.3" y2="125.8" stroke="#333" stroke-width="1.1"/>
<line x1="295.7" y1="129.2" x2="295.7" y2="141.0" stroke="#333" stroke-width="1.1"/>
<line x1="429.8" y1="113.4" x2="429.8" y2="125.8" stroke="#999" stroke-width="0.9"/>
<line x1="432.3" y1="113.4" x2="432.3" y2="125.8" stroke="#222" stroke-width="0.9"/>
<line x1="429.8" y1="119.8" x2="432.3" y2="119.8" stroke="#555" stroke-width="0.6"/>
<line x1="307.1" y1="144.3" x2="307.1" y2="156.6" stroke="#ccc" stroke-width="0.9"/>
<line x1="304.3" y1="144.3" x2="304.3" y2="156.6" stroke="#111" stroke-width="1.2"/>
<line x1="307.1" y1="146.5" x2="307.1" y2="154.5" stroke="#444" stroke-width="0.8"/>
<line x1="304.3" y1="150.5" x2="307.1" y2="150.5" stroke="#222" stroke-width="0.8"/>
<rect x="376.9" y="158.80" width="9" height="7.7" fill="#c9381e"/>
<rect x="376.9" y="167.23" width="9" height="7.7" fill="#edb92b"/>
<rect x="376.9" y="175.66" width="9" height="7.7" fill="#5db59e"/>
<rect x="376.9" y="184.09" width="9" height="7.7" fill="#2f2888"/>
<line x1="85.4" y1="176.3" x2="85.4" y2="258.8" stroke="#111" stroke-width="1.1"/>
<line x1="82" y1="192.6" x2="85.4" y2="192.6" stroke="#111" stroke-width="1"/>
<line x1="82" y1="256.8" x2="85.4" y2="256.8" stroke="#111" stroke-width="1"/>
<line x1="104.5" y1="268.2" x2="127.8" y2="268.2" stroke="#000" stroke-width="1.7"/>
<line x1="342.4" y1="268.2" x2="372.7" y2="268.2" stroke="#000" stroke-width="1.7"/>
<line x1="103.8" y1="281.3" x2="498.4" y2="281.3" stroke="#111" stroke-width="1.2"/>
<line x1="122.4" y1="281.3" x2="122.4" y2="284.7" stroke="#111" stroke-width="1"/>
<line x1="197.5" y1="281.3" x2="197.5" y2="284.7" stroke="#111" stroke-width="1"/>
<line x1="272.6" y1="281.3" x2="272.6" y2="284.7" stroke="#111" stroke-width="1"/>
<line x1="347.7" y1="281.3" x2="347.7" y2="284.7" stroke="#111" stroke-width="1"/>
<line x1="422.8" y1="281.3" x2="422.8" y2="284.7" stroke="#111" stroke-width="1"/>
<line x1="497.9" y1="281.3" x2="497.9" y2="284.7" stroke="#111" stroke-width="1"/>
<text x="13.90" y="335.80" font-size="10.86" textLength="5.50" lengthAdjust="spacingAndGlyphs">B</text>
<text transform="translate(25.9,467.1) rotate(-90)" font-size="9.40" textLength="134.9" lengthAdjust="spacingAndGlyphs">Gene expression, log<tspan font-size="6.58" dy="2">2</tspan><tspan dy="-2"> (RPKM + 2)</tspan></text>
<text x="66.00" y="341.80" font-size="7.73" textLength="72.30" lengthAdjust="spacingAndGlyphs">IGLL5 in DLBCL tumors</text>
<text x="72.10" y="350.90" font-size="7.73" textLength="60.00" lengthAdjust="spacingAndGlyphs">β = 2.36, P = 0.118</text>
<line x1="48.90" y1="369.10" x2="48.90" y2="431.50" stroke="#111" stroke-width="1.00"/>
<line x1="46.10" y1="371.70" x2="48.90" y2="371.70" stroke="#111" stroke-width="1.00"/>
<text x="42.90" y="374.20" font-size="7.84" text-anchor="end">6</text>
<line x1="46.10" y1="381.20" x2="48.90" y2="381.20" stroke="#111" stroke-width="1.00"/>
<text x="42.90" y="383.70" font-size="7.84" text-anchor="end">4</text>
<line x1="46.10" y1="390.70" x2="48.90" y2="390.70" stroke="#111" stroke-width="1.00"/>
<text x="42.90" y="393.20" font-size="7.84" text-anchor="end">2</text>
<line x1="46.10" y1="400.20" x2="48.90" y2="400.20" stroke="#111" stroke-width="1.00"/>
<text x="42.90" y="402.70" font-size="7.84" text-anchor="end">0</text>
<line x1="46.10" y1="409.70" x2="48.90" y2="409.70" stroke="#111" stroke-width="1.00"/>
<text x="42.90" y="412.20" font-size="7.84" text-anchor="end">−2</text>
<line x1="46.10" y1="419.20" x2="48.90" y2="419.20" stroke="#111" stroke-width="1.00"/>
<line x1="46.10" y1="428.70" x2="48.90" y2="428.70" stroke="#111" stroke-width="1.00"/>
<text x="42.90" y="431.20" font-size="7.84" text-anchor="end">−6</text>
<line x1="80.60" y1="383.40" x2="80.60" y2="394.20" stroke="#111" stroke-width="0.90" stroke-dasharray="1 2"/>
<line x1="69.80" y1="383.40" x2="91.40" y2="383.40" stroke="#111" stroke-width="1.00"/>
<line x1="80.60" y1="416.00" x2="80.60" y2="430.50" stroke="#111" stroke-width="0.90" stroke-dasharray="1 2"/>
<line x1="69.80" y1="430.50" x2="91.40" y2="430.50" stroke="#111" stroke-width="1.00"/>
<rect x="59.1" y="394.2" width="43.1" height="21.8" fill="#a4062c" stroke="#a4062c" stroke-width="0.6"/>
<line x1="59.10" y1="406.30" x2="102.20" y2="406.30" stroke="#0a0a0a" stroke-width="1.90"/>
<line x1="135.00" y1="369.40" x2="135.00" y2="383.40" stroke="#111" stroke-width="0.90" stroke-dasharray="1 2"/>
<line x1="124.20" y1="369.40" x2="145.80" y2="369.40" stroke="#111" stroke-width="1.00"/>
<line x1="135.00" y1="405.00" x2="135.00" y2="432.20" stroke="#111" stroke-width="0.90" stroke-dasharray="1 2"/>
<line x1="124.20" y1="432.20" x2="145.80" y2="432.20" stroke="#111" stroke-width="1.00"/>
<rect x="113.5" y="383.4" width="43.0" height="21.6" fill="#2e4f88" stroke="#2e4f88" stroke-width="0.6"/>
<line x1="113.50" y1="391.50" x2="156.50" y2="391.50" stroke="#0a0a0a" stroke-width="1.90"/>
<path d="M80.6,437.5 V434.5 H135.0 V437.5" fill="none" stroke="#111" stroke-width="1"/>
<text x="63.50" y="447.80" font-size="8.51" textLength="35.40" lengthAdjust="spacingAndGlyphs">Loss (n=7)</text>
<text x="108.40" y="447.80" font-size="8.51" textLength="50.50" lengthAdjust="spacingAndGlyphs">No CNV (n=41)</text>
<text x="177.50" y="336.20" font-size="10.86" textLength="7.00" lengthAdjust="spacingAndGlyphs">C</text>
<text transform="translate(189.4,468.1) rotate(-90)" font-size="9.40" textLength="134.9" lengthAdjust="spacingAndGlyphs">Gene expression, log<tspan font-size="6.58" dy="2">2</tspan><tspan dy="-2"> (RPKM + 2)</tspan></text>
<text x="235.90" y="343.10" font-size="7.73" textLength="58.70" lengthAdjust="spacingAndGlyphs">IGLL5 in FL tumors</text>
<text x="235.40" y="352.00" font-size="7.73" textLength="58.40" lengthAdjust="spacingAndGlyphs">β = 4.13, P = 0.011</text>
<line x1="213.30" y1="376.20" x2="213.30" y2="424.60" stroke="#111" stroke-width="1.00"/>
<line x1="210.50" y1="378.22" x2="213.30" y2="378.22" stroke="#111" stroke-width="1.00"/>
<text x="207.10" y="380.72" font-size="7.84" text-anchor="end">4</text>
<line x1="210.50" y1="392.96" x2="213.30" y2="392.96" stroke="#111" stroke-width="1.00"/>
<text x="207.10" y="395.46" font-size="7.84" text-anchor="end">2</text>
<line x1="210.50" y1="407.70" x2="213.30" y2="407.70" stroke="#111" stroke-width="1.00"/>
<text x="207.10" y="410.20" font-size="7.84" text-anchor="end">0</text>
<line x1="210.50" y1="422.44" x2="213.30" y2="422.44" stroke="#111" stroke-width="1.00"/>
<text x="207.10" y="424.94" font-size="7.84" text-anchor="end">−2</text>
<rect x="222.9" y="417.0" width="43.1" height="10.6" fill="#a4062c" stroke="#a4062c" stroke-width="0.6"/>
<line x1="222.90" y1="422.50" x2="266.00" y2="422.50" stroke="#0a0a0a" stroke-width="1.90"/>
<line x1="298.10" y1="370.20" x2="298.10" y2="382.10" stroke="#111" stroke-width="0.90" stroke-dasharray="1 2"/>
<line x1="287.60" y1="370.20" x2="308.60" y2="370.20" stroke="#111" stroke-width="1.00"/>
<line x1="298.10" y1="402.00" x2="298.10" y2="431.90" stroke="#111" stroke-width="0.90" stroke-dasharray="1 2"/>
<line x1="287.60" y1="431.90" x2="308.60" y2="431.90" stroke="#111" stroke-width="1.00"/>
<rect x="277.1" y="382.1" width="42.6" height="19.9" fill="#2e4f88" stroke="#2e4f88" stroke-width="0.6"/>
<line x1="277.10" y1="392.80" x2="319.70" y2="392.80" stroke="#0a0a0a" stroke-width="1.90"/>
<path d="M244.4,437.5 V434.5 H298.1 V437.5" fill="none" stroke="#111" stroke-width="1"/>
<text x="226.60" y="447.80" font-size="8.51" textLength="35.40" lengthAdjust="spacingAndGlyphs">Loss (n=2)</text>
<text x="272.90" y="447.80" font-size="8.51" textLength="50.20" lengthAdjust="spacingAndGlyphs">No CNV (n=24)</text>
<text x="342.10" y="336.20" font-size="10.86" textLength="5.60" lengthAdjust="spacingAndGlyphs">D</text>
<text transform="translate(352.4,464.8) rotate(-90)" font-size="9.40" textLength="134.9" lengthAdjust="spacingAndGlyphs">Gene expression, log<tspan font-size="6.58" dy="2">2</tspan><tspan dy="-2"> (RPKM + 2)</tspan></text>
<text x="394.90" y="344.40" font-size="7.73" textLength="63.00" lengthAdjust="spacingAndGlyphs">IGLL5 in CLL tumors</text>
<text x="389.70" y="352.10" font-size="7.73" textLength="70.10" lengthAdjust="spacingAndGlyphs">β =5.36, P = 6.14 × 10</text>
<text x="459.90" y="348.40" font-size="5.15" textLength="3.50" lengthAdjust="spacingAndGlyphs">−7</text>
<line x1="374.00" y1="365.40" x2="374.00" y2="429.50" stroke="#111" stroke-width="1.00"/>
<line x1="371.20" y1="368.30" x2="374.00" y2="368.30" stroke="#111" stroke-width="1.00"/>
<text x="368.20" y="370.80" font-size="7.84" text-anchor="end">6</text>
<line x1="371.20" y1="379.70" x2="374.00" y2="379.70" stroke="#111" stroke-width="1.00"/>
<text x="368.20" y="382.20" font-size="7.84" text-anchor="end">4</text>
<line x1="371.20" y1="391.10" x2="374.00" y2="391.10" stroke="#111" stroke-width="1.00"/>
<text x="368.20" y="393.60" font-size="7.84" text-anchor="end">2</text>
<line x1="371.20" y1="402.50" x2="374.00" y2="402.50" stroke="#111" stroke-width="1.00"/>
<text x="368.20" y="405.00" font-size="7.84" text-anchor="end">0</text>
<line x1="371.20" y1="413.90" x2="374.00" y2="413.90" stroke="#111" stroke-width="1.00"/>
<text x="368.20" y="416.40" font-size="7.84" text-anchor="end">−2</text>
<line x1="371.20" y1="425.30" x2="374.00" y2="425.30" stroke="#111" stroke-width="1.00"/>
<text x="368.20" y="427.80" font-size="7.84" text-anchor="end">−4</text>
<line x1="405.80" y1="396.30" x2="405.80" y2="410.60" stroke="#111" stroke-width="0.90" stroke-dasharray="1 2"/>
<line x1="395.05" y1="396.30" x2="416.55" y2="396.30" stroke="#111" stroke-width="1.00"/>
<line x1="405.80" y1="426.80" x2="405.80" y2="428.70" stroke="#111" stroke-width="0.90" stroke-dasharray="1 2"/>
<line x1="395.05" y1="428.70" x2="416.55" y2="428.70" stroke="#111" stroke-width="1.00"/>
<rect x="384.2" y="410.6" width="43.1" height="16.2" fill="#a4062c" stroke="#a4062c" stroke-width="0.6"/>
<line x1="384.20" y1="420.60" x2="427.30" y2="420.60" stroke="#0a0a0a" stroke-width="1.90"/>
<line x1="460.20" y1="365.90" x2="460.20" y2="372.90" stroke="#111" stroke-width="0.90" stroke-dasharray="1 2"/>
<line x1="449.45" y1="365.90" x2="470.95" y2="365.90" stroke="#111" stroke-width="1.00"/>
<line x1="460.20" y1="386.90" x2="460.20" y2="399.80" stroke="#111" stroke-width="0.90" stroke-dasharray="1 2"/>
<line x1="449.45" y1="399.80" x2="470.95" y2="399.80" stroke="#111" stroke-width="1.00"/>
<rect x="438.1" y="372.9" width="43.6" height="14.0" fill="#2e4f88" stroke="#2e4f88" stroke-width="0.6"/>
<line x1="438.10" y1="378.80" x2="481.70" y2="378.80" stroke="#0a0a0a" stroke-width="1.90"/>
<circle cx="405.8" cy="373.5" r="1.05" fill="#000"/>
<circle cx="459.8" cy="420.0" r="1.05" fill="#000"/>
<circle cx="459.8" cy="427.4" r="1.05" fill="#000"/>
<circle cx="459.8" cy="431.9" r="1.05" fill="#000"/>
<path d="M405.8,437.5 V434.5 H460.0 V437.5" fill="none" stroke="#111" stroke-width="1"/>
<text x="386.20" y="447.80" font-size="8.51" textLength="39.20" lengthAdjust="spacingAndGlyphs">Loss (n=10)</text>
<text x="434.70" y="447.80" font-size="8.51" textLength="50.70" lengthAdjust="spacingAndGlyphs">No CNV (n=51)</text>

</svg>
</body></html>
